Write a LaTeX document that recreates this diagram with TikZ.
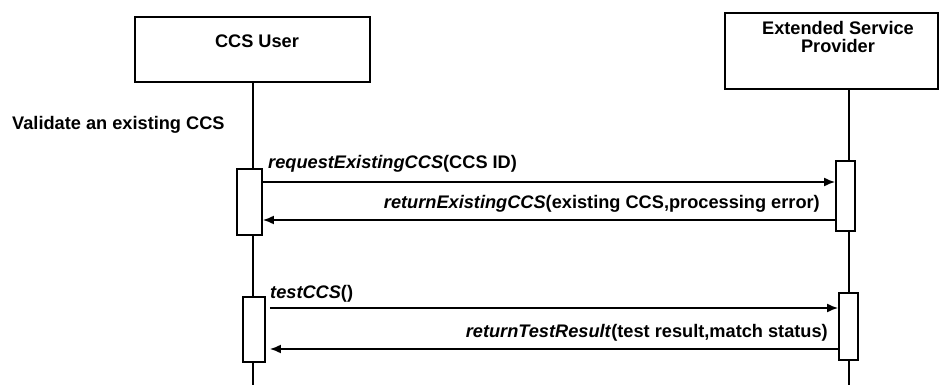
\documentclass[tikz,border=0pt]{standalone}
\usepackage{fontspec}
\setmainfont{Liberation Sans}
\usetikzlibrary{arrows.meta}
\begin{document}
\begin{tikzpicture}[x=1pt,y=-1pt,
  every node/.style={font=\fontsize{18.2}{21}\selectfont\bfseries},
  lifebox/.style={draw,line width=1.8pt,inner sep=0pt,fill=white},
  act/.style={draw,line width=1.8pt,fill=white,inner sep=0pt},
  life/.style={line width=1.8pt},
  msg/.style={line width=1.8pt,-{Latex[length=11pt,width=9pt]}},
  lbl/.style={inner sep=0pt}]
\useasboundingbox (0,0) rectangle (940,385);
% participants
\node[lifebox,minimum width=235pt,minimum height=65pt] (u) at (252.5,49.5) {};
\node[lbl] (ut) at (257,41) {CCS User};
\node[lifebox,minimum width=213pt,minimum height=76pt] (p) at (831.5,51) {};
\node[lbl,align=center,anchor=north] (pt) at (838,21) {Extended Service\\[-3pt]Provider};
% lifelines
\coordinate (uL) at (253,385);
\coordinate (pL) at (849,385);
\draw[life] (u.south -| uL) -- (uL);
\draw[life] (p.south -| pL) -- (pL);
% title
\node[lbl,anchor=west] (title) at (12,125) {Validate an existing CCS};
% activations
\node[act,minimum width=25pt,minimum height=66pt] (a1) at (249.5,202) {};
\node[act,minimum width=19pt,minimum height=70pt] (b1) at (845.5,196) {};
\node[act,minimum width=22pt,minimum height=65pt] (a2) at (254,329.5) {};
\node[act,minimum width=19pt,minimum height=67pt] (b2) at (848.5,326.5) {};
% messages
\coordinate (m1) at (0,182);
\coordinate (m2) at (0,220);
\coordinate (m3) at (0,308);
\coordinate (m4) at (0,349);
\draw[msg] (a1.east |- m1) -- (b1.west |- m1);
\draw[msg] (b1.west |- m2) -- (a1.east |- m2);
\draw[msg] ([xshift=4pt]a2.east |- m3) -- (b2.west |- m3);
\draw[msg] (b2.west |- m4) -- ([xshift=4pt]a2.east |- m4);
\node[lbl,anchor=base west] (l1) at (268,168) {\textit{requestExistingCCS}(CCS ID)};
\node[lbl,anchor=base east] (l2) at (820,208) {\textit{returnExistingCCS}(existing CCS,processing error)};
\node[lbl,anchor=base west] (l3) at (270,298) {\textit{testCCS}()};
\node[lbl,anchor=base east] (l4) at (828,337) {\textit{returnTestResult}(test result,match status)};
\end{tikzpicture}
\end{document}
